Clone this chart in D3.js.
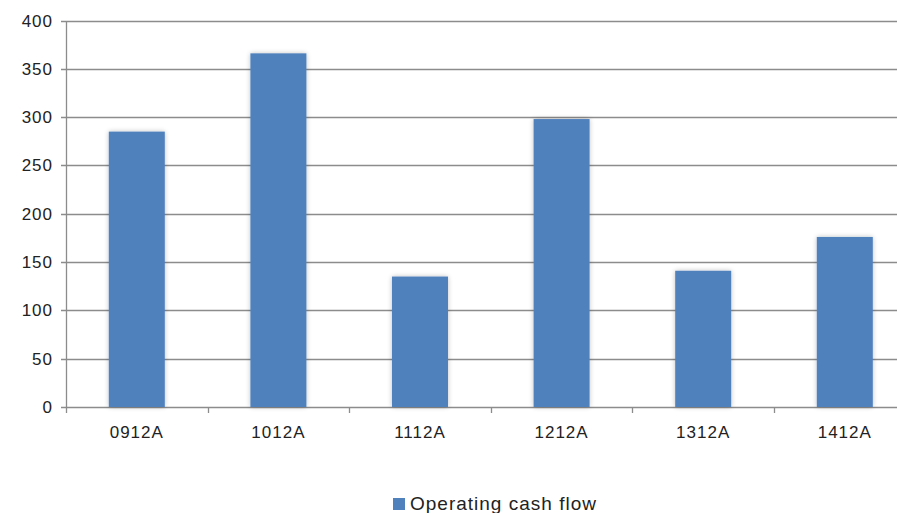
<!DOCTYPE html>
<html lang="en">
<head>
<meta charset="utf-8">
<title>Operating cash flow</title>
<script src="https://d3js.org/d3.v7.min.js"></script>
<style>
  body { margin: 0; background: #fff; }
  text { font-family: "Liberation Sans", Arial, sans-serif; fill: #222; letter-spacing: 1px; }
</style>
</head>
<body>
<div id="chart"></div>
<script>
  // chart data
  var categories = ['0912A', '1012A', '1112A', '1212A', '1312A', '1412A'];
  var cashFlow = [285, 366, 135, 298, 141, 176];
  var yTicks = [0, 50, 100, 150, 200, 250, 300, 350, 400];
  var seriesName = 'Operating cash flow';

  (function(d3) {
    'use strict';

    var width = 897, height = 513;
    var left = 66, plotTop = 20.5, bottom = 407;
    var step = 141.6;

    var svg = d3.select('#chart').append('svg')
      .attr('width', width)
      .attr('height', height);

    var defs = svg.append('defs');
    var f = defs.append('filter').attr('id', 'shadow')
      .attr('x', '-20%').attr('y', '-10%').attr('width', '140%').attr('height', '120%');
    f.append('feGaussianBlur').attr('in', 'SourceAlpha').attr('stdDeviation', 2.5);
    f.append('feComponentTransfer').append('feFuncA').attr('type', 'linear').attr('slope', 0.25);
    var m = f.append('feMerge');
    m.append('feMergeNode');
    m.append('feMergeNode').attr('in', 'SourceGraphic');

    var x = d3.scaleBand()
      .domain(categories)
      .range([left, left + step * categories.length])
      .paddingInner(0.6045)
      .paddingOuter(0.30225);

    var y = d3.scaleLinear().domain([0, 400]).range([bottom, plotTop]);

    // gridlines
    svg.append('g').selectAll('line')
      .data(yTicks)
      .enter().append('line')
      .attr('x1', left - 5).attr('x2', width)
      .attr('y1', function(d) { return Math.round(y(d)) + 0.5; })
      .attr('y2', function(d) { return Math.round(y(d)) + 0.5; })
      .attr('stroke', '#8c8c8c').attr('stroke-width', 1.3);

    // y labels
    svg.append('g').selectAll('text')
      .data(yTicks)
      .enter().append('text')
      .attr('x', 53)
      .attr('y', function(d) { return y(d) + 6; })
      .attr('text-anchor', 'end')
      .style('font-size', '17px')
      .text(function(d) { return d; });

    // y axis line
    svg.append('line')
      .attr('x1', left + 0.5).attr('x2', left + 0.5)
      .attr('y1', Math.round(plotTop)).attr('y2', bottom + 0.5)
      .attr('stroke', '#8c8c8c').attr('stroke-width', 1.3);

    // category ticks
    svg.append('g').selectAll('line')
      .data(d3.range(categories.length + 1))
      .enter().append('line')
      .attr('x1', function(i) { return Math.round(left + i * step) + 0.5; })
      .attr('x2', function(i) { return Math.round(left + i * step) + 0.5; })
      .attr('y1', bottom).attr('y2', bottom + 6)
      .attr('stroke', '#8c8c8c').attr('stroke-width', 1.3);

    // bars
    svg.append('g').selectAll('rect')
      .data(cashFlow)
      .enter().append('rect')
      .attr('x', function(d, i) { return x(categories[i]); })
      .attr('width', x.bandwidth())
      .attr('y', function(d) { return y(d); })
      .attr('height', function(d) { return bottom - y(d); })
      .attr('fill', '#4f81bd')
      .attr('filter', 'url(#shadow)');

    // category labels
    svg.append('g').selectAll('text')
      .data(categories)
      .enter().append('text')
      .attr('x', function(d) { return x(d) + x.bandwidth() / 2; })
      .attr('y', 438)
      .attr('text-anchor', 'middle')
      .style('font-size', '17px')
      .text(function(d) { return d; });

    // legend
    svg.append('rect')
      .attr('x', 393).attr('y', 498)
      .attr('width', 12).attr('height', 12)
      .attr('fill', '#4f81bd');
    svg.append('text')
      .attr('x', 410).attr('y', 510)
      .style('font-size', '19px')
      .text(seriesName);
  })(window.d3);
</script>
</body>
</html>
